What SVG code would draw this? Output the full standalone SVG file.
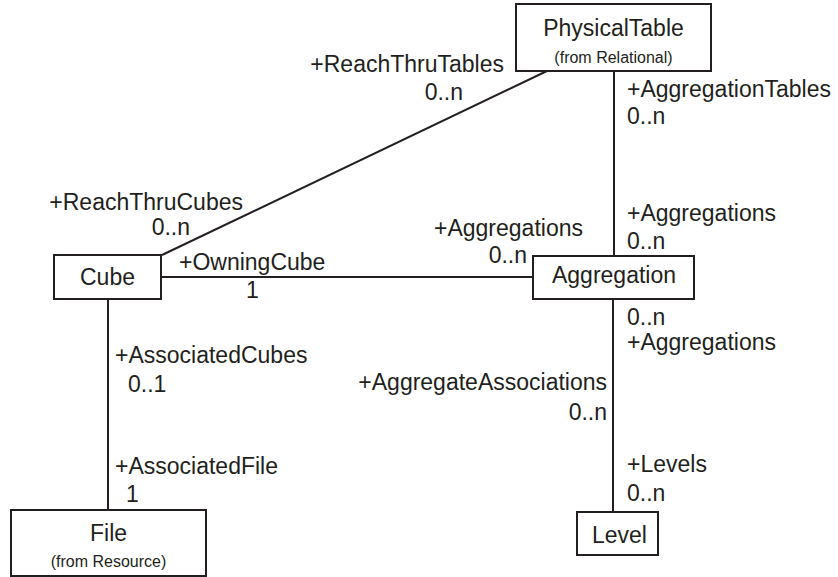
<svg xmlns="http://www.w3.org/2000/svg" width="838" height="577" viewBox="0 0 838 577">
<style>
  .box { fill: #ffffff; stroke: #231f20; stroke-width: 2; }
  .conn { stroke: #231f20; stroke-width: 2; fill: none; }
  text { font-family: "Liberation Sans", Arial, sans-serif; fill: #231f20; }
  .lbl { font-size: 23px; }
  .end { text-anchor: end; }
  .name { font-size: 23px; text-anchor: middle; }
  .sub { font-size: 16px; text-anchor: middle; }
</style>
<rect width="838" height="577" fill="#ffffff"/>
<g id="connectors">
  <line class="conn" x1="547" y1="71" x2="162" y2="255"/>
  <line class="conn" x1="614" y1="71" x2="614" y2="256"/>
  <line class="conn" x1="161" y1="277" x2="533" y2="277"/>
  <line class="conn" x1="108" y1="299" x2="108" y2="510"/>
  <line class="conn" x1="613" y1="299" x2="613" y2="512"/>
</g>
<g id="labels">
  <text class="lbl end" x="504" y="72">+ReachThruTables</text>
  <text class="lbl end" x="463" y="100">0..n</text>
  <text class="lbl" x="627" y="97">+AggregationTables</text>
  <text class="lbl" x="627" y="124">0..n</text>
  <text class="lbl end" x="243" y="210">+ReachThruCubes</text>
  <text class="lbl end" x="190" y="235">0..n</text>
  <text class="lbl" x="179" y="270">+OwningCube</text>
  <text class="lbl" x="246" y="298">1</text>
  <text class="lbl end" x="583" y="236">+Aggregations</text>
  <text class="lbl end" x="527" y="263">0..n</text>
  <text class="lbl" x="627" y="221">+Aggregations</text>
  <text class="lbl" x="627" y="249">0..n</text>
  <text class="lbl" x="627" y="325">0..n</text>
  <text class="lbl" x="627" y="350">+Aggregations</text>
  <text class="lbl end" x="607" y="390">+AggregateAssociations</text>
  <text class="lbl end" x="607" y="420">0..n</text>
  <text class="lbl" x="115" y="363">+AssociatedCubes</text>
  <text class="lbl" x="128" y="392">0..1</text>
  <text class="lbl" x="115" y="474">+AssociatedFile</text>
  <text class="lbl" x="126" y="502">1</text>
  <text class="lbl" x="627" y="472">+Levels</text>
  <text class="lbl" x="627" y="501">0..n</text>
</g>
<g id="PhysicalTable">
  <rect class="box" x="516" y="4" width="195" height="67"/>
  <text class="name" x="613.5" y="36">PhysicalTable</text>
  <text class="sub" x="613.5" y="63">(from Relational)</text>
</g>
<g id="Cube">
  <rect class="box" x="54" y="255" width="107" height="44"/>
  <text class="name" x="107.5" y="285">Cube</text>
</g>
<g id="Aggregation">
  <rect class="box" x="533" y="256" width="161" height="43"/>
  <text class="name" x="614" y="283">Aggregation</text>
</g>
<g id="File">
  <rect class="box" x="11" y="510" width="195" height="66"/>
  <text class="name" x="108.5" y="541">File</text>
  <text class="sub" x="108.5" y="567">(from Resource)</text>
</g>
<g id="Level">
  <rect class="box" x="577" y="512" width="81" height="43"/>
  <text class="name" x="619.5" y="543">Level</text>
</g>
</svg>
